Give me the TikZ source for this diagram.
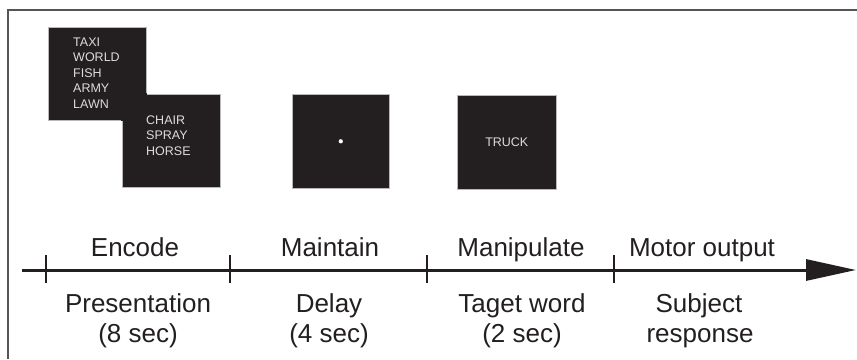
\documentclass[tikz,border=0pt]{standalone}
\usepackage{fontspec}
\setmainfont{Liberation Sans}
\usetikzlibrary{arrows.meta}
\definecolor{boxfill}{HTML}{231F20}
\definecolor{ink}{HTML}{231F20}
\definecolor{wordc}{HTML}{DCDCDC}
\definecolor{framec}{HTML}{555555}
\begin{document}
\begin{tikzpicture}[x=1pt,y=-1pt,
  stim/.style={fill=boxfill, draw=gray!55, line width=0.6pt, inner sep=0pt, anchor=north west},
  word/.style={text=wordc, font=\fontsize{12.5}{15}\selectfont, inner sep=0pt, anchor=base west},
  lab/.style={text=ink, font=\fontsize{26}{30}\selectfont, inner sep=0pt, anchor=base},
  tickmark/.style={draw=ink, line width=2.6pt},
  axisline/.style={draw=ink, line width=3pt, -{Triangle[length=50pt,width=21pt]}}]
\useasboundingbox (0,0) rectangle (857,359);
\fill[white] (0,0) rectangle (857,359);
% frame
\coordinate (fbl) at (8,359);
\coordinate (ftl) at (8,10);
\coordinate (ftr) at (857,10);
\draw[framec, line width=1.4pt] (fbl) -- (ftl) -- (ftr);
% stimulus boxes
\node[stim, minimum width=98pt, minimum height=93pt] (b1) at (48,27) {};
\node[stim, minimum width=98pt, minimum height=93pt] (b2) at (122,94) {};
\fill[boxfill] ([shift={(-0.8pt,0.8pt)}]b2.north west) rectangle ([shift={(0.8pt,-0.8pt)}]b1.south east);
\node[stim, minimum width=97pt, minimum height=94pt] (b3) at (292,94) {};
\node[stim, minimum width=99pt, minimum height=94pt] (b4) at (457,95) {};
% words
\node[word] (w1) at (73,46) {TAXI};
\node[word] (w2) at (73,61.6) {WORLD};
\node[word] (w3) at (73,77.2) {FISH};
\node[word] (w4) at (73,92.8) {ARMY};
\node[word] (w5) at (73,108.4) {LAWN};
\node[word] (w6) at (146,124) {CHAIR};
\node[word] (w7) at (146,139.6) {SPRAY};
\node[word] (w8) at (146,155.2) {HORSE};
\node[circle, fill=white, inner sep=0pt, minimum size=4.2pt] (dot) at (b3.center) {};
\node[word, anchor=center] (w9) at (b4.center) {TRUCK};
% axis
\coordinate (as) at (22,270);
\coordinate (ae) at (856,270);
\draw[axisline] (as) -- (ae);
\coordinate (t1) at (46,270);
\coordinate (t2) at (230,270);
\coordinate (t3) at (427,270);
\coordinate (t4) at (614,270);
\foreach \t in {t1,t2,t3,t4}
  \draw[tickmark] ([yshift=15pt]\t) -- ([yshift=-13pt]\t);
% labels above
\node[lab] (l1) at (135,256) {Encode};
\node[lab] (l2) at (330,256) {Maintain};
\node[lab] (l3) at (521,256) {Manipulate};
\node[lab] (l4) at (702,256) {Motor output};
% labels below
\node[lab] (p1) at (138,312) {Presentation};
\node[lab] (p2) at (138,342) {(8 sec)};
\node[lab] (d1) at (329,312) {Delay};
\node[lab] (d2) at (329,342) {(4 sec)};
\node[lab] (g1) at (522,312) {Taget word};
\node[lab] (g2) at (522,342) {(2 sec)};
\node[lab] (s1) at (699,312) {Subject};
\node[lab] (s2) at (700,342) {response};
\end{tikzpicture}
\end{document}
